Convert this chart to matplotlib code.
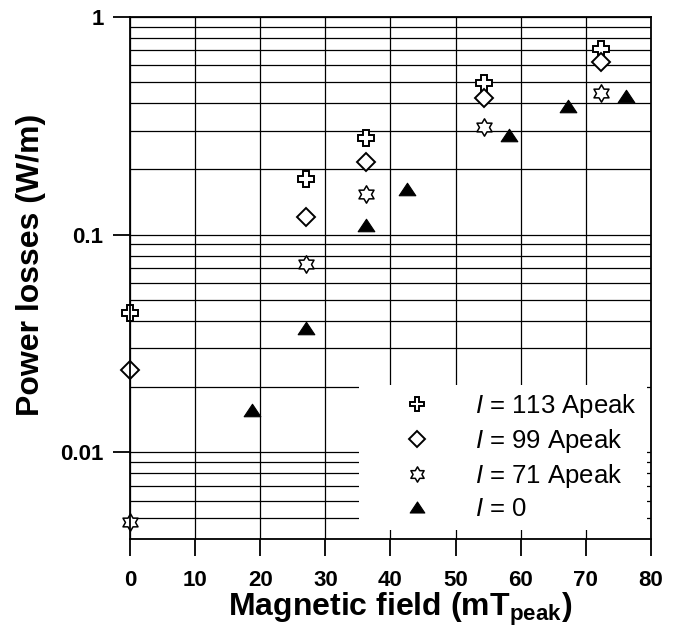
import numpy as np
import matplotlib
matplotlib.use("Agg")
import matplotlib.pyplot as plt
from matplotlib.path import Path
from matplotlib.patches import Rectangle

plt.rcParams['font.family'] = ['Liberation Sans', 'DejaVu Sans']
plt.rcParams['mathtext.fontset'] = 'custom'
plt.rcParams['mathtext.rm'] = 'Liberation Sans'
plt.rcParams['mathtext.it'] = 'Liberation Sans:italic'
plt.rcParams['mathtext.bf'] = 'Liberation Sans:bold'

# data
x_113 = [0, 27.1, 36.2, 54.3, 72.3]
y_113 = [0.0435, 0.180, 0.277, 0.498, 0.709]
x_99 = [0, 27.1, 36.2, 54.3, 72.3]
y_99 = [0.0238, 0.120, 0.216, 0.425, 0.622]
x_71 = [0, 27.1, 36.2, 54.3, 72.4]
y_71 = [0.00481, 0.0734, 0.153, 0.313, 0.445]
x_0 = [18.7, 27.1, 36.3, 42.5, 58.2, 67.2, 76.2]
y_0 = [0.0156, 0.0374, 0.111, 0.161, 0.287, 0.389, 0.433]

labels = ['$I$ = 113 Apeak', '$I$ = 99 Apeak', '$I$ = 71 Apeak', '$I$ = 0']
xticks = [0, 10, 20, 30, 40, 50, 60, 70, 80]
yticks = [0.01, 0.1, 1]
yticklabels = ['0.01', '0.1', '1']

# six-pointed star outline
ang_out = np.deg2rad(90 + 60 * np.arange(6))
ang_in = ang_out + np.deg2rad(30)
r_in = 1 / np.sqrt(3)
verts = []
for a, b in zip(ang_out, ang_in):
    verts.append((np.cos(a), np.sin(a)))
    verts.append((r_in * np.cos(b), r_in * np.sin(b)))
verts.append(verts[0])
star = Path(verts, closed=True)
tri = Path([(0, 0.75), (-1, -0.75), (1, -0.75), (0, 0.75)], closed=True)

fig = plt.figure(figsize=(6.81, 6.28), dpi=100)
ax = fig.add_axes([0.1909, 0.1417, 0.765, 0.8317])

ax.set_yscale('log')
ax.set_xlim(0, 80)
ax.set_ylim(0.004, 1)

ax.grid(True, which='major', axis='x', color='black', lw=0.9)
ax.grid(True, which='both', axis='y', color='black', lw=0.9)

mk = dict(ls='none', clip_on=False, zorder=4)
h1, = ax.plot(x_113, y_113, marker='P', ms=12, mfc='white', mec='black', mew=1.4, **mk)
h2, = ax.plot(x_99, y_99, marker='D', ms=9, mfc='white', mec='black', mew=1.4, **mk)
h3, = ax.plot(x_71, y_71, marker=star, ms=12.5, mfc='white', mec='black', mew=1.1, **mk)
h4, = ax.plot(x_0, y_0, marker=tri, ms=12, mfc='black', mec='black', mew=0.8, **mk)

# white box behind the legend hiding the grid
ax.add_patch(Rectangle((0.4395, 0.0172), 0.5527, 0.278, transform=ax.transAxes,
                       facecolor='white', edgecolor='none', zorder=2))

leg = ax.legend([h1, h2, h3, h4], labels, loc='upper left',
                bbox_to_anchor=(0.5254, 0.281), frameon=False, fontsize=18.5,
                handlelength=1.0, handletextpad=1.77, labelspacing=0.27,
                markerscale=0.88, borderpad=0, borderaxespad=0)
leg.set_zorder(5)

ax.set_xticks(xticks)
ax.set_xticklabels([str(v) for v in xticks])
ax.set_yticks(yticks)
ax.set_yticklabels(yticklabels)
ax.tick_params(axis='both', which='major', direction='out', length=12, width=1.3,
               labelsize=16, pad=7)
ax.tick_params(axis='x', which='major', pad=10)
ax.tick_params(axis='y', which='minor', length=0)
for lab in ax.get_xticklabels() + ax.get_yticklabels():
    lab.set_fontweight('bold')

for s in ax.spines.values():
    s.set_linewidth(1.3)
    s.set_zorder(6)

ax.set_xlabel(r'Magnetic field (mT$_{\mathbf{peak}}$)', fontsize=23, fontweight='bold', labelpad=0.5)
ax.set_ylabel('Power losses (W/m)', fontsize=23, fontweight='bold', labelpad=10)
ax.xaxis.label.set_x(0.518)
ax.yaxis.label.set_y(0.5256)

fig.savefig('out.png', dpi=100)
